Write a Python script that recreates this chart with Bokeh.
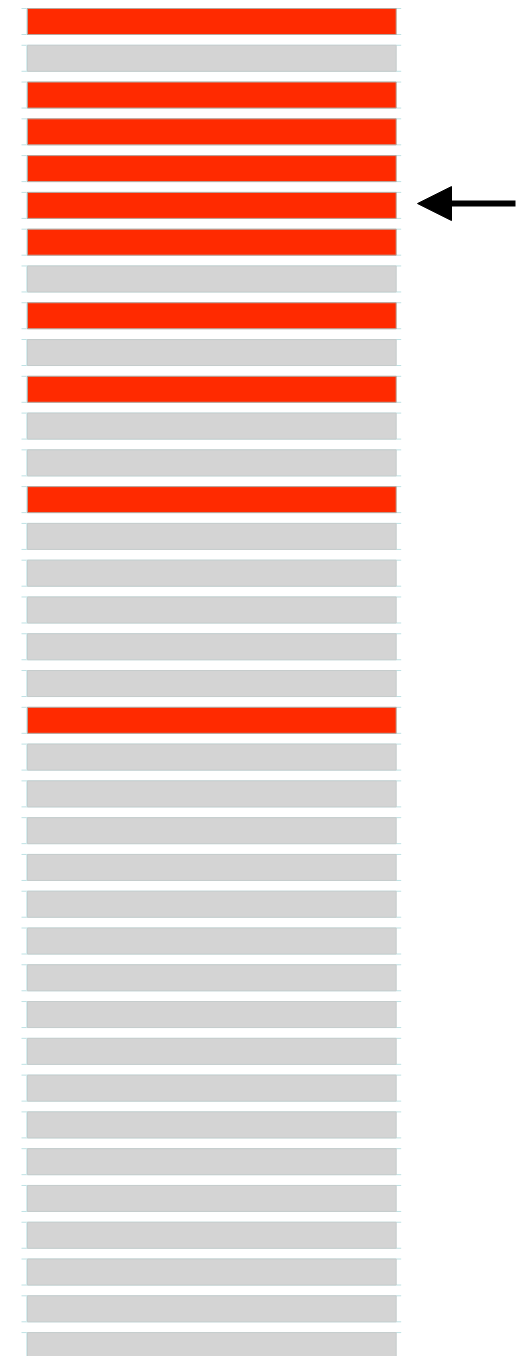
from bokeh.plotting import figure
from bokeh.models import Range1d, ColumnDataSource, Arrow, NormalHead
from bokeh.embed import file_html
from bokeh.resources import INLINE

# ---- data ----
rows = [str(i) for i in range(1, 38)]
highlighted = [1, 0, 1, 1, 1, 1, 1, 0, 1, 0, 1, 0, 0, 1, 0, 0, 0, 0, 0, 1,
               0, 0, 0, 0, 0, 0, 0, 0, 0, 0, 0, 0, 0, 0, 0, 0, 0]
values = [100] * 37
marked_row = 6  # row pointed at by the arrow

RED = "#FF2A00"
GREY = "#D4D4D4"

W, H = 529, 1356
left_px, right_px = 27.0, 395.7
px_per_unit = (right_px - left_px) / 100.0
x0 = -left_px / px_per_unit
x1 = (W - left_px) / px_per_unit
pitch = 36.78
first_center = 21.0
y_top = -first_center / pitch
y_bot = (H - first_center) / pitch
half = 13 / pitch

ypos = list(range(len(rows)))
fill = [RED if h else GREY for h in highlighted]
edge = ["#b9a59c" if h else "#c6cccc" for h in highlighted]

src = ColumnDataSource(dict(y=ypos, v=values, fill=fill, edge=edge,
                            top=[y - half for y in ypos],
                            bot=[y + half for y in ypos]))

p = figure(width=W, height=H, output_backend="svg", toolbar_location=None,
           x_range=Range1d(x0, x1), y_range=Range1d(y_bot, y_top),
           min_border=0, outline_line_color=None)
p.axis.visible = False
p.grid.visible = False
p.background_fill_color = "white"
p.border_fill_color = "white"

lx0 = -6 / px_per_unit
lx1 = 100 + 5 / px_per_unit
# separator lines above and below each bar
p.segment(x0=lx0, x1=lx1, y0="top", y1="top", source=src,
          line_color="#bfe2e4", line_width=1)
p.segment(x0=lx0, x1=lx1, y0="bot", y1="bot", source=src,
          line_color="#bfe2e4", line_width=1)
# left edge tick
p.segment(x0=-1 / px_per_unit, x1=-1 / px_per_unit, y0="top", y1="bot",
          source=src, line_color="#d6eef0", line_width=1)

p.hbar(y="y", left=0, right="v", height=2 * half, source=src,
       fill_color="fill", line_color="edge", line_width=1)

ay = marked_row - 1 - 0.05
p.add_layout(Arrow(end=NormalHead(size=34, fill_color="black", line_color="black"),
                   x_start=100 + (515 - right_px) / px_per_unit, y_start=ay,
                   x_end=100 + (417 - right_px) / px_per_unit, y_end=ay,
                   line_width=6, line_color="black"))

open("out.html", "w").write(file_html(p, INLINE))
